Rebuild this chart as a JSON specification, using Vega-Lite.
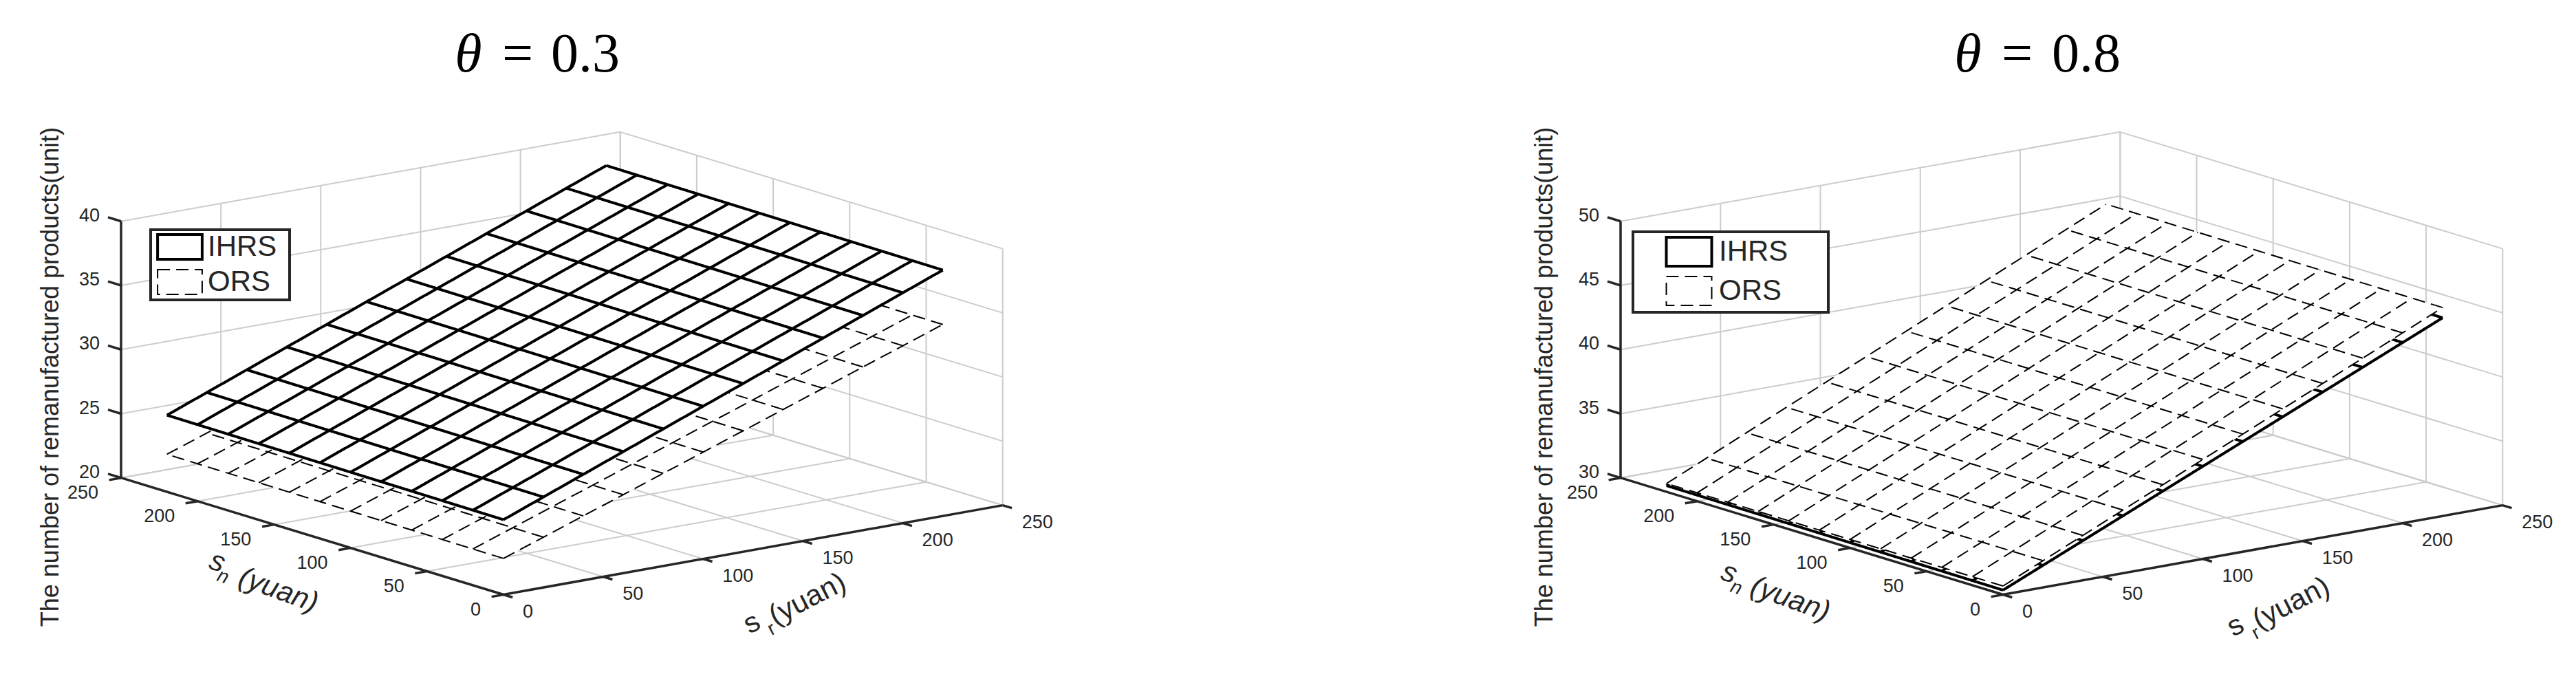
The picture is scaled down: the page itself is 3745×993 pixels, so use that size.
{"$schema":"https://vega.github.io/schema/vega-lite/v6.json","padding":0,"spacing":0,"background":"white","config":{"view":{"stroke":null},"axis":{"disable":true},"legend":{"strokeWidth":4}},
"resolve":{"scale":{"strokeDash":"independent","strokeWidth":"independent"},"legend":{"strokeDash":"independent","strokeWidth":"independent"}},
"datasets":{
"ticks03":[{"axis":"sr","tick":0},{"axis":"sr","tick":50},{"axis":"sr","tick":100},{"axis":"sr","tick":150},{"axis":"sr","tick":200},{"axis":"sr","tick":250},{"axis":"sn","tick":0},{"axis":"sn","tick":50},{"axis":"sn","tick":100},{"axis":"sn","tick":150},{"axis":"sn","tick":200},{"axis":"sn","tick":250},{"axis":"z","tick":20},{"axis":"z","tick":25},{"axis":"z","tick":30},{"axis":"z","tick":35},{"axis":"z","tick":40}],
"ticks08":[{"axis":"sr","tick":0},{"axis":"sr","tick":50},{"axis":"sr","tick":100},{"axis":"sr","tick":150},{"axis":"sr","tick":200},{"axis":"sr","tick":250},{"axis":"sn","tick":0},{"axis":"sn","tick":50},{"axis":"sn","tick":100},{"axis":"sn","tick":150},{"axis":"sn","tick":200},{"axis":"sn","tick":250},{"axis":"z","tick":30},{"axis":"z","tick":35},{"axis":"z","tick":40},{"axis":"z","tick":45},{"axis":"z","tick":50}],
"mesh03":[
{"s":"IHRS","sr":0,"sn":0,"v":25.84},{"s":"IHRS","sr":20,"sn":0,"v":27.05},{"s":"IHRS","sr":40,"sn":0,"v":28.26},{"s":"IHRS","sr":60,"sn":0,"v":29.48},{"s":"IHRS","sr":80,"sn":0,"v":30.69},{"s":"IHRS","sr":100,"sn":0,"v":31.9},{"s":"IHRS","sr":120,"sn":0,"v":33.11},{"s":"IHRS","sr":140,"sn":0,"v":34.32},{"s":"IHRS","sr":160,"sn":0,"v":35.54},{"s":"IHRS","sr":180,"sn":0,"v":36.75},{"s":"IHRS","sr":200,"sn":0,"v":37.96},{"s":"IHRS","sr":220,"sn":0,"v":39.17},
{"s":"IHRS","sr":0,"sn":220,"v":25.98},{"s":"IHRS","sr":20,"sn":220,"v":27.19},{"s":"IHRS","sr":40,"sn":220,"v":28.4},{"s":"IHRS","sr":60,"sn":220,"v":29.62},{"s":"IHRS","sr":80,"sn":220,"v":30.83},{"s":"IHRS","sr":100,"sn":220,"v":32.04},{"s":"IHRS","sr":120,"sn":220,"v":33.25},{"s":"IHRS","sr":140,"sn":220,"v":34.46},{"s":"IHRS","sr":160,"sn":220,"v":35.68},{"s":"IHRS","sr":180,"sn":220,"v":36.89},{"s":"IHRS","sr":200,"sn":220,"v":38.1},{"s":"IHRS","sr":220,"sn":220,"v":39.31},
{"s":"IHRS","sr":0,"sn":20,"v":25.85},{"s":"IHRS","sr":0,"sn":40,"v":25.87},{"s":"IHRS","sr":0,"sn":60,"v":25.88},{"s":"IHRS","sr":0,"sn":80,"v":25.89},{"s":"IHRS","sr":0,"sn":100,"v":25.9},{"s":"IHRS","sr":0,"sn":120,"v":25.92},{"s":"IHRS","sr":0,"sn":140,"v":25.93},{"s":"IHRS","sr":0,"sn":160,"v":25.94},{"s":"IHRS","sr":0,"sn":180,"v":25.95},{"s":"IHRS","sr":0,"sn":200,"v":25.97},
{"s":"IHRS","sr":220,"sn":20,"v":39.18},{"s":"IHRS","sr":220,"sn":40,"v":39.2},{"s":"IHRS","sr":220,"sn":60,"v":39.21},{"s":"IHRS","sr":220,"sn":80,"v":39.22},{"s":"IHRS","sr":220,"sn":100,"v":39.23},{"s":"IHRS","sr":220,"sn":120,"v":39.25},{"s":"IHRS","sr":220,"sn":140,"v":39.26},{"s":"IHRS","sr":220,"sn":160,"v":39.27},{"s":"IHRS","sr":220,"sn":180,"v":39.28},{"s":"IHRS","sr":220,"sn":200,"v":39.3},
{"s":"ORS","sr":0,"sn":0,"v":22.82},{"s":"ORS","sr":20,"sn":0,"v":23.92},{"s":"ORS","sr":40,"sn":0,"v":25.02},{"s":"ORS","sr":60,"sn":0,"v":26.12},{"s":"ORS","sr":80,"sn":0,"v":27.22},{"s":"ORS","sr":100,"sn":0,"v":28.33},{"s":"ORS","sr":120,"sn":0,"v":29.43},{"s":"ORS","sr":140,"sn":0,"v":30.53},{"s":"ORS","sr":160,"sn":0,"v":31.63},{"s":"ORS","sr":180,"sn":0,"v":32.73},{"s":"ORS","sr":200,"sn":0,"v":33.83},{"s":"ORS","sr":220,"sn":0,"v":34.93},
{"s":"ORS","sr":0,"sn":220,"v":22.93},{"s":"ORS","sr":20,"sn":220,"v":24.03},{"s":"ORS","sr":40,"sn":220,"v":25.13},{"s":"ORS","sr":60,"sn":220,"v":26.23},{"s":"ORS","sr":80,"sn":220,"v":27.33},{"s":"ORS","sr":100,"sn":220,"v":28.44},{"s":"ORS","sr":120,"sn":220,"v":29.54},{"s":"ORS","sr":140,"sn":220,"v":30.64},{"s":"ORS","sr":160,"sn":220,"v":31.74},{"s":"ORS","sr":180,"sn":220,"v":32.84},{"s":"ORS","sr":200,"sn":220,"v":33.94},{"s":"ORS","sr":220,"sn":220,"v":35.04},
{"s":"ORS","sr":0,"sn":20,"v":22.83},{"s":"ORS","sr":0,"sn":40,"v":22.84},{"s":"ORS","sr":0,"sn":60,"v":22.85},{"s":"ORS","sr":0,"sn":80,"v":22.86},{"s":"ORS","sr":0,"sn":100,"v":22.87},{"s":"ORS","sr":0,"sn":120,"v":22.88},{"s":"ORS","sr":0,"sn":140,"v":22.89},{"s":"ORS","sr":0,"sn":160,"v":22.9},{"s":"ORS","sr":0,"sn":180,"v":22.91},{"s":"ORS","sr":0,"sn":200,"v":22.92},
{"s":"ORS","sr":220,"sn":20,"v":34.94},{"s":"ORS","sr":220,"sn":40,"v":34.95},{"s":"ORS","sr":220,"sn":60,"v":34.96},{"s":"ORS","sr":220,"sn":80,"v":34.97},{"s":"ORS","sr":220,"sn":100,"v":34.98},{"s":"ORS","sr":220,"sn":120,"v":34.99},{"s":"ORS","sr":220,"sn":140,"v":35.0},{"s":"ORS","sr":220,"sn":160,"v":35.01},{"s":"ORS","sr":220,"sn":180,"v":35.02},{"s":"ORS","sr":220,"sn":200,"v":35.03}],
"mesh08":[
{"s":"IHRS","sr":0,"sn":0,"v":30.35},{"s":"IHRS","sr":20,"sn":0,"v":31.72},{"s":"IHRS","sr":40,"sn":0,"v":33.1},{"s":"IHRS","sr":60,"sn":0,"v":34.47},{"s":"IHRS","sr":80,"sn":0,"v":35.84},{"s":"IHRS","sr":100,"sn":0,"v":37.21},{"s":"IHRS","sr":120,"sn":0,"v":38.59},{"s":"IHRS","sr":140,"sn":0,"v":39.96},{"s":"IHRS","sr":160,"sn":0,"v":41.33},{"s":"IHRS","sr":180,"sn":0,"v":42.7},{"s":"IHRS","sr":200,"sn":0,"v":44.08},{"s":"IHRS","sr":220,"sn":0,"v":45.45},
{"s":"IHRS","sr":0,"sn":220,"v":30.49},{"s":"IHRS","sr":20,"sn":220,"v":31.86},{"s":"IHRS","sr":40,"sn":220,"v":33.24},{"s":"IHRS","sr":60,"sn":220,"v":34.61},{"s":"IHRS","sr":80,"sn":220,"v":35.98},{"s":"IHRS","sr":100,"sn":220,"v":37.35},{"s":"IHRS","sr":120,"sn":220,"v":38.73},{"s":"IHRS","sr":140,"sn":220,"v":40.1},{"s":"IHRS","sr":160,"sn":220,"v":41.47},{"s":"IHRS","sr":180,"sn":220,"v":42.84},{"s":"IHRS","sr":200,"sn":220,"v":44.22},{"s":"IHRS","sr":220,"sn":220,"v":45.59},
{"s":"IHRS","sr":0,"sn":20,"v":30.36},{"s":"IHRS","sr":0,"sn":40,"v":30.38},{"s":"IHRS","sr":0,"sn":60,"v":30.39},{"s":"IHRS","sr":0,"sn":80,"v":30.4},{"s":"IHRS","sr":0,"sn":100,"v":30.41},{"s":"IHRS","sr":0,"sn":120,"v":30.43},{"s":"IHRS","sr":0,"sn":140,"v":30.44},{"s":"IHRS","sr":0,"sn":160,"v":30.45},{"s":"IHRS","sr":0,"sn":180,"v":30.46},{"s":"IHRS","sr":0,"sn":200,"v":30.48},
{"s":"IHRS","sr":220,"sn":20,"v":45.46},{"s":"IHRS","sr":220,"sn":40,"v":45.48},{"s":"IHRS","sr":220,"sn":60,"v":45.49},{"s":"IHRS","sr":220,"sn":80,"v":45.5},{"s":"IHRS","sr":220,"sn":100,"v":45.51},{"s":"IHRS","sr":220,"sn":120,"v":45.53},{"s":"IHRS","sr":220,"sn":140,"v":45.54},{"s":"IHRS","sr":220,"sn":160,"v":45.55},{"s":"IHRS","sr":220,"sn":180,"v":45.56},{"s":"IHRS","sr":220,"sn":200,"v":45.58},
{"s":"ORS","sr":0,"sn":0,"v":30.67},{"s":"ORS","sr":20,"sn":0,"v":32.09},{"s":"ORS","sr":40,"sn":0,"v":33.5},{"s":"ORS","sr":60,"sn":0,"v":34.92},{"s":"ORS","sr":80,"sn":0,"v":36.34},{"s":"ORS","sr":100,"sn":0,"v":37.75},{"s":"ORS","sr":120,"sn":0,"v":39.17},{"s":"ORS","sr":140,"sn":0,"v":40.58},{"s":"ORS","sr":160,"sn":0,"v":42.0},{"s":"ORS","sr":180,"sn":0,"v":43.42},{"s":"ORS","sr":200,"sn":0,"v":44.83},{"s":"ORS","sr":220,"sn":0,"v":46.25},
{"s":"ORS","sr":0,"sn":220,"v":30.65},{"s":"ORS","sr":20,"sn":220,"v":32.07},{"s":"ORS","sr":40,"sn":220,"v":33.5},{"s":"ORS","sr":60,"sn":220,"v":34.92},{"s":"ORS","sr":80,"sn":220,"v":36.34},{"s":"ORS","sr":100,"sn":220,"v":37.76},{"s":"ORS","sr":120,"sn":220,"v":39.19},{"s":"ORS","sr":140,"sn":220,"v":40.61},{"s":"ORS","sr":160,"sn":220,"v":42.03},{"s":"ORS","sr":180,"sn":220,"v":43.45},{"s":"ORS","sr":200,"sn":220,"v":44.88},{"s":"ORS","sr":220,"sn":220,"v":46.3},
{"s":"ORS","sr":0,"sn":20,"v":30.67},{"s":"ORS","sr":0,"sn":40,"v":30.67},{"s":"ORS","sr":0,"sn":60,"v":30.66},{"s":"ORS","sr":0,"sn":80,"v":30.66},{"s":"ORS","sr":0,"sn":100,"v":30.66},{"s":"ORS","sr":0,"sn":120,"v":30.66},{"s":"ORS","sr":0,"sn":140,"v":30.66},{"s":"ORS","sr":0,"sn":160,"v":30.66},{"s":"ORS","sr":0,"sn":180,"v":30.65},{"s":"ORS","sr":0,"sn":200,"v":30.65},
{"s":"ORS","sr":220,"sn":20,"v":46.25},{"s":"ORS","sr":220,"sn":40,"v":46.26},{"s":"ORS","sr":220,"sn":60,"v":46.26},{"s":"ORS","sr":220,"sn":80,"v":46.27},{"s":"ORS","sr":220,"sn":100,"v":46.27},{"s":"ORS","sr":220,"sn":120,"v":46.28},{"s":"ORS","sr":220,"sn":140,"v":46.28},{"s":"ORS","sr":220,"sn":160,"v":46.29},{"s":"ORS","sr":220,"sn":180,"v":46.29},{"s":"ORS","sr":220,"sn":200,"v":46.3}]
},
"hconcat":[
{"width":1872,"height":993,
"encoding":{"x":{"field":"x","type":"quantitative","scale":{"domain":[0,1872],"nice":false,"zero":false}},"y":{"field":"y","type":"quantitative","scale":{"domain":[993,0],"nice":false,"zero":false}}},
"layer":[
{"data":{"name":"ticks03"},
"transform":[
{"calculate":"datum.axis=='sr'?datum.tick:0","as":"sr"},
{"calculate":"datum.axis=='sn'?datum.tick:(datum.axis=='z'?250:0)","as":"sn"},
{"calculate":"datum.axis=='z'?datum.tick:20","as":"z"},
{"calculate":"732+2.903*datum.sr-2.224*datum.sn","as":"x"},
{"calculate":"864.5-0.5196*datum.sr-0.679*datum.sn-18.65*(datum.z-20)","as":"y"},
{"calculate":"datum.x+(datum.axis=='sr'?13.3:datum.axis=='sn'?-17.4:-19)","as":"tx"},
{"calculate":"datum.y+(datum.axis=='sr'?4:datum.axis=='sn'?3.1:-5.8)","as":"ty"},
{"calculate":"datum.x+(datum.axis=='sr'?-556:725.7)","as":"x1"},
{"calculate":"datum.y+(datum.axis=='sr'?-169.8:-129.9)","as":"y1"},
{"calculate":"datum.x1+(datum.axis=='z'?556:0)","as":"x3"},
{"calculate":"datum.y1+(datum.axis=='z'?169.8:-373)","as":"y3"}],
"layer":[
{"mark":{"type":"rule","stroke":"#cccccc","strokeWidth":2},"encoding":{"x2":{"field":"x1"},"y2":{"field":"y1"}}},
{"mark":{"type":"rule","stroke":"#cccccc","strokeWidth":2},"encoding":{"x":{"field":"x1","type":"quantitative"},"y":{"field":"y1","type":"quantitative"},"x2":{"field":"x3"},"y2":{"field":"y3"}}},
{"transform":[{"filter":"datum.tick==0"}],"mark":{"type":"rule","stroke":"#262626","strokeWidth":3.5},"encoding":{"x2":{"field":"x1"},"y2":{"field":"y1"}}},
{"transform":[{"filter":"datum.axis=='sr'&&datum.tick==0"}],"mark":{"type":"rule","stroke":"#262626","strokeWidth":3.5},"encoding":{"x":{"field":"x1","type":"quantitative"},"y":{"field":"y1","type":"quantitative"},"x2":{"field":"x1"},"y2":{"field":"y3"}}},
{"mark":{"type":"rule","stroke":"#262626","strokeWidth":3.5},"encoding":{"x2":{"field":"tx"},"y2":{"field":"ty"}}},
{"transform":[{"filter":"datum.axis=='sr'"}],"mark":{"type":"text","font":"Liberation Sans","fontSize":27,"fill":"#262626","align":"left","baseline":"middle","dx":28,"dy":25},"encoding":{"text":{"field":"tick"}}},
{"transform":[{"filter":"datum.axis=='sn'"}],"mark":{"type":"text","font":"Liberation Sans","fontSize":27,"fill":"#262626","align":"right","baseline":"middle","dx":-33,"dy":22},"encoding":{"text":{"field":"tick"}}},
{"transform":[{"filter":"datum.axis=='z'"}],"mark":{"type":"text","font":"Liberation Sans","fontSize":27,"fill":"#262626","align":"right","baseline":"middle","dx":-31,"dy":-8},"encoding":{"text":{"field":"tick"}}}
]},
{"data":{"name":"mesh03"},
"transform":[
{"calculate":"732+2.903*datum.sr-2.224*datum.sn","as":"x"},
{"calculate":"864.5-0.5196*datum.sr-0.679*datum.sn-18.65*(datum.v-20)","as":"y"},
{"calculate":"datum.sr==0?(datum.sn==0?0:3):(datum.sn==0?1:2)","as":"o"}],
"layer":[
{"transform":[{"filter":"datum.s=='ORS'&&(datum.sr==0||datum.sr==220)&&(datum.sn==0||datum.sn==220)"}],"mark":{"type":"line","fill":"white","strokeOpacity":0},"encoding":{"order":{"field":"o","type":"quantitative"}}},
{"transform":[{"filter":"datum.s=='ORS'&&(datum.sn==0||datum.sn==220)"}],"mark":{"type":"line","stroke":"black"},"encoding":{"detail":{"field":"sr"},"order":{"field":"sn","type":"quantitative"},"strokeDash":{"field":"s","scale":{"domain":["IHRS","ORS"],"range":[[1,0],[18,9]]},"legend":{"title":"\u2800","titleOrient":"right","titleFontSize":1,"titlePadding":14,"orient":"none","legendX":219,"legendY":334,"strokeColor":"#262626","fillColor":"white","padding":4,"symbolType":"M-1.8,-1L1.8,-1L1.8,1L-1.8,1Z","symbolSize":1296,"symbolOffset":17.5,"symbolStrokeColor":"black","symbolFillColor":"transparent","labelFont":"Liberation Sans","labelFontSize":42,"labelColor":"#262626","labelOffset":19.5,"rowPadding":3}},"strokeWidth":{"field":"s","scale":{"domain":["IHRS","ORS"],"range":[4,2]},"legend":{"title":"\u2800"}}}},
{"transform":[{"filter":"datum.s=='ORS'&&(datum.sr==0||datum.sr==220)"}],"mark":{"type":"line","stroke":"black"},"encoding":{"detail":{"field":"sn"},"order":{"field":"sr","type":"quantitative"},"strokeDash":{"field":"s"},"strokeWidth":{"field":"s"}}},
{"transform":[{"filter":"datum.s=='IHRS'&&(datum.sr==0||datum.sr==220)&&(datum.sn==0||datum.sn==220)"}],"mark":{"type":"line","fill":"white","strokeOpacity":0},"encoding":{"order":{"field":"o","type":"quantitative"}}},
{"transform":[{"filter":"datum.s=='IHRS'&&(datum.sn==0||datum.sn==220)"}],"mark":{"type":"line","stroke":"black"},"encoding":{"detail":{"field":"sr"},"order":{"field":"sn","type":"quantitative"},"strokeDash":{"field":"s"},"strokeWidth":{"field":"s"}}},
{"transform":[{"filter":"datum.s=='IHRS'&&(datum.sr==0||datum.sr==220)"}],"mark":{"type":"line","stroke":"black"},"encoding":{"detail":{"field":"sn"},"order":{"field":"sr","type":"quantitative"},"strokeDash":{"field":"s"},"strokeWidth":{"field":"s"}}}
]},
{"data":{"values":[{}]},"mark":{"type":"text","text":"θ","font":"Liberation Serif","fontStyle":"italic","fontSize":80,"fill":"black","align":"center","baseline":"alphabetic"},"encoding":{"x":{"value":681},"y":{"value":104}}},
{"data":{"values":[{}]},"mark":{"type":"text","text":"=","font":"Liberation Serif","fontSize":80,"fill":"black","align":"left","baseline":"alphabetic"},"encoding":{"x":{"value":730},"y":{"value":104}}},
{"data":{"values":[{}]},"mark":{"type":"text","text":"0.3","font":"Liberation Serif","fontSize":80,"fill":"black","align":"left","baseline":"alphabetic"},"encoding":{"x":{"value":801},"y":{"value":104}}},
{"data":{"values":[{}]},"mark":{"type":"text","text":"The number of remanufactured products(unit)","font":"Liberation Sans","fontSize":36,"fill":"#262626","angle":270,"align":"center","baseline":"middle"},"encoding":{"x":{"value":74},"y":{"value":548}}},
{"data":{"values":[{}]},"mark":{"type":"text","text":"s","font":"Liberation Sans","fontStyle":"italic","fontSize":42,"fill":"#262626","angle":20,"align":"center","baseline":"middle"},"encoding":{"x":{"value":316},"y":{"value":817}}},
{"data":{"values":[{}]},"mark":{"type":"text","text":"n","font":"Liberation Sans","fontStyle":"italic","fontSize":28,"fill":"#262626","angle":20,"align":"center","baseline":"middle"},"encoding":{"x":{"value":324},"y":{"value":839}}},
{"data":{"values":[{}]},"mark":{"type":"text","text":"(yuan)","font":"Liberation Sans","fontStyle":"italic","fontSize":42,"fill":"#262626","angle":20,"align":"center","baseline":"middle"},"encoding":{"x":{"value":405},"y":{"value":858}}},
{"data":{"values":[{}]},"mark":{"type":"text","text":"s","font":"Liberation Sans","fontSize":42,"fill":"#262626","angle":-27,"align":"center","baseline":"middle"},"encoding":{"x":{"value":1093},"y":{"value":906}}},
{"data":{"values":[{}]},"mark":{"type":"text","text":"r","font":"Liberation Sans","fontSize":28,"fill":"#262626","angle":-27,"align":"center","baseline":"middle"},"encoding":{"x":{"value":1122},"y":{"value":915}}},
{"data":{"values":[{}]},"mark":{"type":"text","text":"(yuan)","font":"Liberation Sans","fontSize":42,"fill":"#262626","angle":-27,"align":"center","baseline":"middle"},"encoding":{"x":{"value":1174},"y":{"value":871}}}
]},
{"width":1873,"height":993,
"encoding":{"x":{"field":"x","type":"quantitative","scale":{"domain":[0,1873],"nice":false,"zero":false}},"y":{"field":"y","type":"quantitative","scale":{"domain":[993,0],"nice":false,"zero":false}}},
"layer":[
{"data":{"name":"ticks08"},
"transform":[
{"calculate":"datum.axis=='sr'?datum.tick:0","as":"sr"},
{"calculate":"datum.axis=='sn'?datum.tick:(datum.axis=='z'?250:0)","as":"sn"},
{"calculate":"datum.axis=='z'?datum.tick:30","as":"z"},
{"calculate":"1040+2.905*datum.sr-2.224*datum.sn","as":"x"},
{"calculate":"864.5-0.5196*datum.sr-0.679*datum.sn-18.65*(datum.z-30)","as":"y"},
{"calculate":"datum.x+(datum.axis=='sr'?13.3:datum.axis=='sn'?-17.4:-19)","as":"tx"},
{"calculate":"datum.y+(datum.axis=='sr'?4:datum.axis=='sn'?3.1:-5.8)","as":"ty"},
{"calculate":"datum.x+(datum.axis=='sr'?-556:726.3)","as":"x1"},
{"calculate":"datum.y+(datum.axis=='sr'?-169.8:-129.9)","as":"y1"},
{"calculate":"datum.x1+(datum.axis=='z'?556:0)","as":"x3"},
{"calculate":"datum.y1+(datum.axis=='z'?169.8:-373)","as":"y3"}],
"layer":[
{"mark":{"type":"rule","stroke":"#cccccc","strokeWidth":2},"encoding":{"x2":{"field":"x1"},"y2":{"field":"y1"}}},
{"mark":{"type":"rule","stroke":"#cccccc","strokeWidth":2},"encoding":{"x":{"field":"x1","type":"quantitative"},"y":{"field":"y1","type":"quantitative"},"x2":{"field":"x3"},"y2":{"field":"y3"}}},
{"transform":[{"filter":"datum.tick==0"}],"mark":{"type":"rule","stroke":"#262626","strokeWidth":3.5},"encoding":{"x2":{"field":"x1"},"y2":{"field":"y1"}}},
{"transform":[{"filter":"datum.axis=='sr'&&datum.tick==0"}],"mark":{"type":"rule","stroke":"#262626","strokeWidth":3.5},"encoding":{"x":{"field":"x1","type":"quantitative"},"y":{"field":"y1","type":"quantitative"},"x2":{"field":"x1"},"y2":{"field":"y3"}}},
{"mark":{"type":"rule","stroke":"#262626","strokeWidth":3.5},"encoding":{"x2":{"field":"tx"},"y2":{"field":"ty"}}},
{"transform":[{"filter":"datum.axis=='sr'"}],"mark":{"type":"text","font":"Liberation Sans","fontSize":27,"fill":"#262626","align":"left","baseline":"middle","dx":28,"dy":25},"encoding":{"text":{"field":"tick"}}},
{"transform":[{"filter":"datum.axis=='sn'"}],"mark":{"type":"text","font":"Liberation Sans","fontSize":27,"fill":"#262626","align":"right","baseline":"middle","dx":-33,"dy":22},"encoding":{"text":{"field":"tick"}}},
{"transform":[{"filter":"datum.axis=='z'"}],"mark":{"type":"text","font":"Liberation Sans","fontSize":27,"fill":"#262626","align":"right","baseline":"middle","dx":-31,"dy":-8},"encoding":{"text":{"field":"tick"}}}
]},
{"data":{"name":"mesh08"},
"transform":[
{"calculate":"1040+2.905*datum.sr-2.224*datum.sn","as":"x"},
{"calculate":"864.5-0.5196*datum.sr-0.679*datum.sn-18.65*(datum.v-30)","as":"y"},
{"calculate":"datum.sr==0?(datum.sn==0?0:3):(datum.sn==0?1:2)","as":"o"}],
"layer":[
{"transform":[{"filter":"datum.s=='IHRS'&&(datum.sr==0||datum.sr==220)&&(datum.sn==0||datum.sn==220)"}],"mark":{"type":"line","fill":"white","strokeOpacity":0},"encoding":{"order":{"field":"o","type":"quantitative"}}},
{"transform":[{"filter":"datum.s=='IHRS'&&(datum.sn==0||datum.sn==220)"}],"mark":{"type":"line","stroke":"black"},"encoding":{"detail":{"field":"sr"},"order":{"field":"sn","type":"quantitative"},"strokeDash":{"field":"s","scale":{"domain":["IHRS","ORS"],"range":[[1,0],[18,9]]},"legend":{"title":"\u2800","titleOrient":"right","titleFontSize":1,"titlePadding":52,"orient":"none","legendX":502,"legendY":337,"strokeColor":"#262626","fillColor":"white","padding":6,"symbolType":"M-1.571,-1L1.571,-1L1.571,1L-1.571,1Z","symbolSize":1764,"symbolOffset":52.5,"symbolStrokeColor":"black","symbolFillColor":"transparent","labelFont":"Liberation Sans","labelFontSize":42,"labelColor":"#262626","labelOffset":20.5,"rowPadding":3}},"strokeWidth":{"field":"s","scale":{"domain":["IHRS","ORS"],"range":[4,2]},"legend":{"title":"\u2800"}}}},
{"transform":[{"filter":"datum.s=='IHRS'&&(datum.sr==0||datum.sr==220)"}],"mark":{"type":"line","stroke":"black"},"encoding":{"detail":{"field":"sn"},"order":{"field":"sr","type":"quantitative"},"strokeDash":{"field":"s"},"strokeWidth":{"field":"s"}}},
{"transform":[{"filter":"datum.s=='ORS'&&(datum.sr==0||datum.sr==220)&&(datum.sn==0||datum.sn==220)"}],"mark":{"type":"line","fill":"white","strokeOpacity":0},"encoding":{"order":{"field":"o","type":"quantitative"}}},
{"transform":[{"filter":"datum.s=='ORS'&&(datum.sn==0||datum.sn==220)"}],"mark":{"type":"line","stroke":"black"},"encoding":{"detail":{"field":"sr"},"order":{"field":"sn","type":"quantitative"},"strokeDash":{"field":"s"},"strokeWidth":{"field":"s"}}},
{"transform":[{"filter":"datum.s=='ORS'&&(datum.sr==0||datum.sr==220)"}],"mark":{"type":"line","stroke":"black"},"encoding":{"detail":{"field":"sn"},"order":{"field":"sr","type":"quantitative"},"strokeDash":{"field":"s"},"strokeWidth":{"field":"s"}}}
]},
{"data":{"values":[{}]},"mark":{"type":"text","text":"θ","font":"Liberation Serif","fontStyle":"italic","fontSize":80,"fill":"black","align":"center","baseline":"alphabetic"},"encoding":{"x":{"value":989},"y":{"value":104}}},
{"data":{"values":[{}]},"mark":{"type":"text","text":"=","font":"Liberation Serif","fontSize":80,"fill":"black","align":"left","baseline":"alphabetic"},"encoding":{"x":{"value":1038},"y":{"value":104}}},
{"data":{"values":[{}]},"mark":{"type":"text","text":"0.8","font":"Liberation Serif","fontSize":80,"fill":"black","align":"left","baseline":"alphabetic"},"encoding":{"x":{"value":1111},"y":{"value":104}}},
{"data":{"values":[{}]},"mark":{"type":"text","text":"The number of remanufactured products(unit)","font":"Liberation Sans","fontSize":36,"fill":"#262626","angle":270,"align":"center","baseline":"middle"},"encoding":{"x":{"value":374},"y":{"value":548}}},
{"data":{"values":[{}]},"mark":{"type":"text","text":"s","font":"Liberation Sans","fontStyle":"italic","fontSize":42,"fill":"#262626","angle":20,"align":"center","baseline":"middle"},"encoding":{"x":{"value":642},"y":{"value":833}}},
{"data":{"values":[{}]},"mark":{"type":"text","text":"n","font":"Liberation Sans","fontStyle":"italic","fontSize":28,"fill":"#262626","angle":20,"align":"center","baseline":"middle"},"encoding":{"x":{"value":652},"y":{"value":855}}},
{"data":{"values":[{}]},"mark":{"type":"text","text":"(yuan)","font":"Liberation Sans","fontStyle":"italic","fontSize":42,"fill":"#262626","angle":20,"align":"center","baseline":"middle"},"encoding":{"x":{"value":731},"y":{"value":871}}},
{"data":{"values":[{}]},"mark":{"type":"text","text":"s","font":"Liberation Sans","fontSize":42,"fill":"#262626","angle":-27,"align":"center","baseline":"middle"},"encoding":{"x":{"value":1378},"y":{"value":910}}},
{"data":{"values":[{}]},"mark":{"type":"text","text":"r","font":"Liberation Sans","fontSize":28,"fill":"#262626","angle":-27,"align":"center","baseline":"middle"},"encoding":{"x":{"value":1408},"y":{"value":921}}},
{"data":{"values":[{}]},"mark":{"type":"text","text":"(yuan)","font":"Liberation Sans","fontSize":42,"fill":"#262626","angle":-27,"align":"center","baseline":"middle"},"encoding":{"x":{"value":1459},"y":{"value":877}}}
]}
]}
